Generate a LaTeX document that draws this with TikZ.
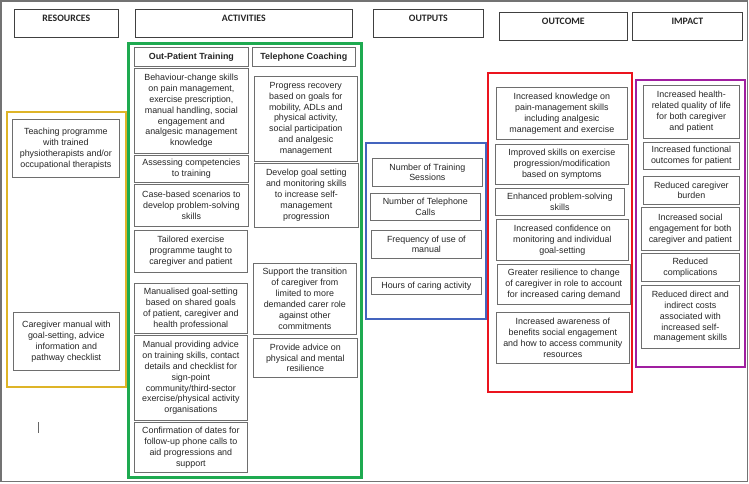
\documentclass[tikz,border=0pt]{standalone}
\usepackage{fontspec}
\setmainfont{Liberation Sans}
\newfontfamily\hdrfont{Carlito}
\definecolor{cgreen}{RGB}{30,170,80}
\definecolor{cyellow}{RGB}{222,180,40}
\definecolor{cblue}{RGB}{68,100,190}
\definecolor{cred}{RGB}{235,20,30}
\definecolor{cpurple}{RGB}{160,30,160}
\definecolor{cborder}{RGB}{110,110,110}
\newcommand\cellbox[6]{%
  \pgfmathsetmacro\cw{#4-#2}\pgfmathsetmacro\ch{#5-#3}%
  \node[cell, minimum width=\cw pt, minimum height=\ch pt, anchor=north west] (#1) at (#2,#3) {#6};}
\newcommand\hdrbox[6]{%
  \pgfmathsetmacro\cw{#4-#2}\pgfmathsetmacro\ch{#5-#3}%
  \node[hbox, minimum width=\cw pt, minimum height=\ch pt, anchor=north west] (#1) at (#2,#3) {};
  \node[htext] (#1t) at ([yshift=-9.5pt]#1.north) {#6};}
\begin{document}
\begin{tikzpicture}[x=1pt,y=-1pt,
  cell/.style={draw=cborder, line width=0.7pt, align=center, inner sep=1pt,
    font=\fontsize{8.9}{10.9}\selectfont, text=black!85},
  hbox/.style={draw=black!75, line width=0.7pt, inner sep=0pt},
  htext/.style={font=\hdrfont\bfseries\fontsize{9.8}{11}\selectfont, inner sep=0pt, text=black!85}]
\useasboundingbox (0,0) rectangle (749,483);
\draw[draw=black!55, line width=1.4pt] (1,1) rectangle (747.5,481.5);
% headers
\hdrbox{hres}{14}{9}{118}{37}{RESOURCES}
\hdrbox{hact}{135}{9}{352}{37}{ACTIVITIES}
\hdrbox{hout}{373}{9}{483}{37}{OUTPUTS}
\hdrbox{hoc}{499}{12}{627}{40}{OUTCOME}
\hdrbox{himp}{632}{12}{742}{40}{IMPACT}
% coloured frames
\draw[cyellow, line width=2pt] (7,112) rectangle (126,387);
\draw[cgreen, line width=3pt] (128,43) rectangle (361,477);
\draw[cblue, line width=2pt] (366,143) rectangle (486,319);
\draw[cred, line width=2.5pt] (488,73) rectangle (632,392);
\draw[cpurple, line width=2.5pt] (636,80) rectangle (745,367);
% resources
\cellbox{r1}{12}{119}{119}{177}{Teaching programme\\with trained\\physiotherapists and/or\\occupational therapists}
\cellbox{r2}{13}{312}{119}{370}{Caregiver manual with\\goal-setting, advice\\information and\\pathway checklist}
% activities left
\cellbox{a0}{134}{47}{248}{66}{\bfseries Out-Patient Training}
\cellbox{a1}{134}{68}{248}{153}{Behaviour-change skills\\on pain management,\\exercise prescription,\\manual handling, social\\engagement and\\analgesic management\\knowledge}
\cellbox{a2}{134}{155}{248}{182}{Assessing competencies\\to training}
\cellbox{a3}{134}{184}{248}{226}{Case-based scenarios to\\develop problem-solving\\skills}
\cellbox{a4}{134}{230}{247}{272}{Tailored exercise\\programme taught to\\caregiver and patient}
\cellbox{a5}{134}{283}{247}{333}{Manualised goal-setting\\based on shared goals\\of patient, caregiver and\\health professional}
\cellbox{a6}{134}{335}{247}{420}{Manual providing advice\\on training skills, contact\\details and checklist for\\sign-point\\community/third-sector\\exercise/physical activity\\organisations}
\cellbox{a7}{134}{422}{247}{472}{Confirmation of dates for\\follow-up phone calls to\\aid progressions and\\support}
% activities right
\cellbox{b0}{252}{47}{355}{66}{\bfseries Telephone Coaching}
\cellbox{b1}{254}{76}{357}{161}{Progress recovery\\based on goals for\\mobility, ADLs and\\physical activity,\\social participation\\and analgesic\\management}
\cellbox{b2}{254}{163}{358}{227}{Develop goal setting\\and monitoring skills\\to increase self-\\management\\progression}
\cellbox{b3}{253}{263}{356}{334}{Support the transition\\of caregiver from\\limited to more\\demanded carer role\\against other\\commitments}
\cellbox{b4}{253}{338}{357}{377}{Provide advice on\\physical and mental\\resilience}
% outputs
\cellbox{o1}{372}{158}{482}{186}{Number of Training\\Sessions}
\cellbox{o2}{370}{193}{480}{220}{Number of Telephone\\Calls}
\cellbox{o3}{371}{230}{481}{258}{Frequency of use of\\manual}
\cellbox{o4}{371}{277}{481}{294}{Hours of caring activity}
% outcome
\cellbox{c1}{496}{87}{627}{139}{Increased knowledge on\\pain-management skills\\including analgesic\\management and exercise}
\cellbox{c2}{495}{144}{628}{184}{Improved skills on exercise\\progression/modification\\based on symptoms}
\cellbox{c3}{495}{188}{624}{215}{Enhanced problem-solving\\skills}
\cellbox{c4}{496}{219}{628}{260}{Increased confidence on\\monitoring and individual\\goal-setting}
\cellbox{c5}{497}{264}{630}{304}{Greater resilience to change\\of caregiver in role to account\\for increased caring demand}
\cellbox{c6}{496}{312}{629}{363}{Increased awareness of\\benefits social engagement\\and how to access community\\resources}
% impact
\cellbox{i1}{643}{85}{739}{138}{Increased health-\\related quality of life\\for both caregiver\\and patient}
\cellbox{i2}{643}{142}{739}{169}{Increased functional\\outcomes for patient}
\cellbox{i3}{643}{176}{739}{204}{Reduced caregiver\\burden}
\cellbox{i4}{641}{207}{739}{250}{Increased social\\engagement for both\\caregiver and patient}
\cellbox{i5}{641}{253}{739}{281}{Reduced\\complications}
\cellbox{i6}{641}{285}{739}{348}{Reduced direct and\\indirect costs\\associated with\\increased self-\\management skills}
% stray cursor mark
\draw[black!60, line width=0.8pt] (38,422) -- (38,433);
\end{tikzpicture}
\end{document}
